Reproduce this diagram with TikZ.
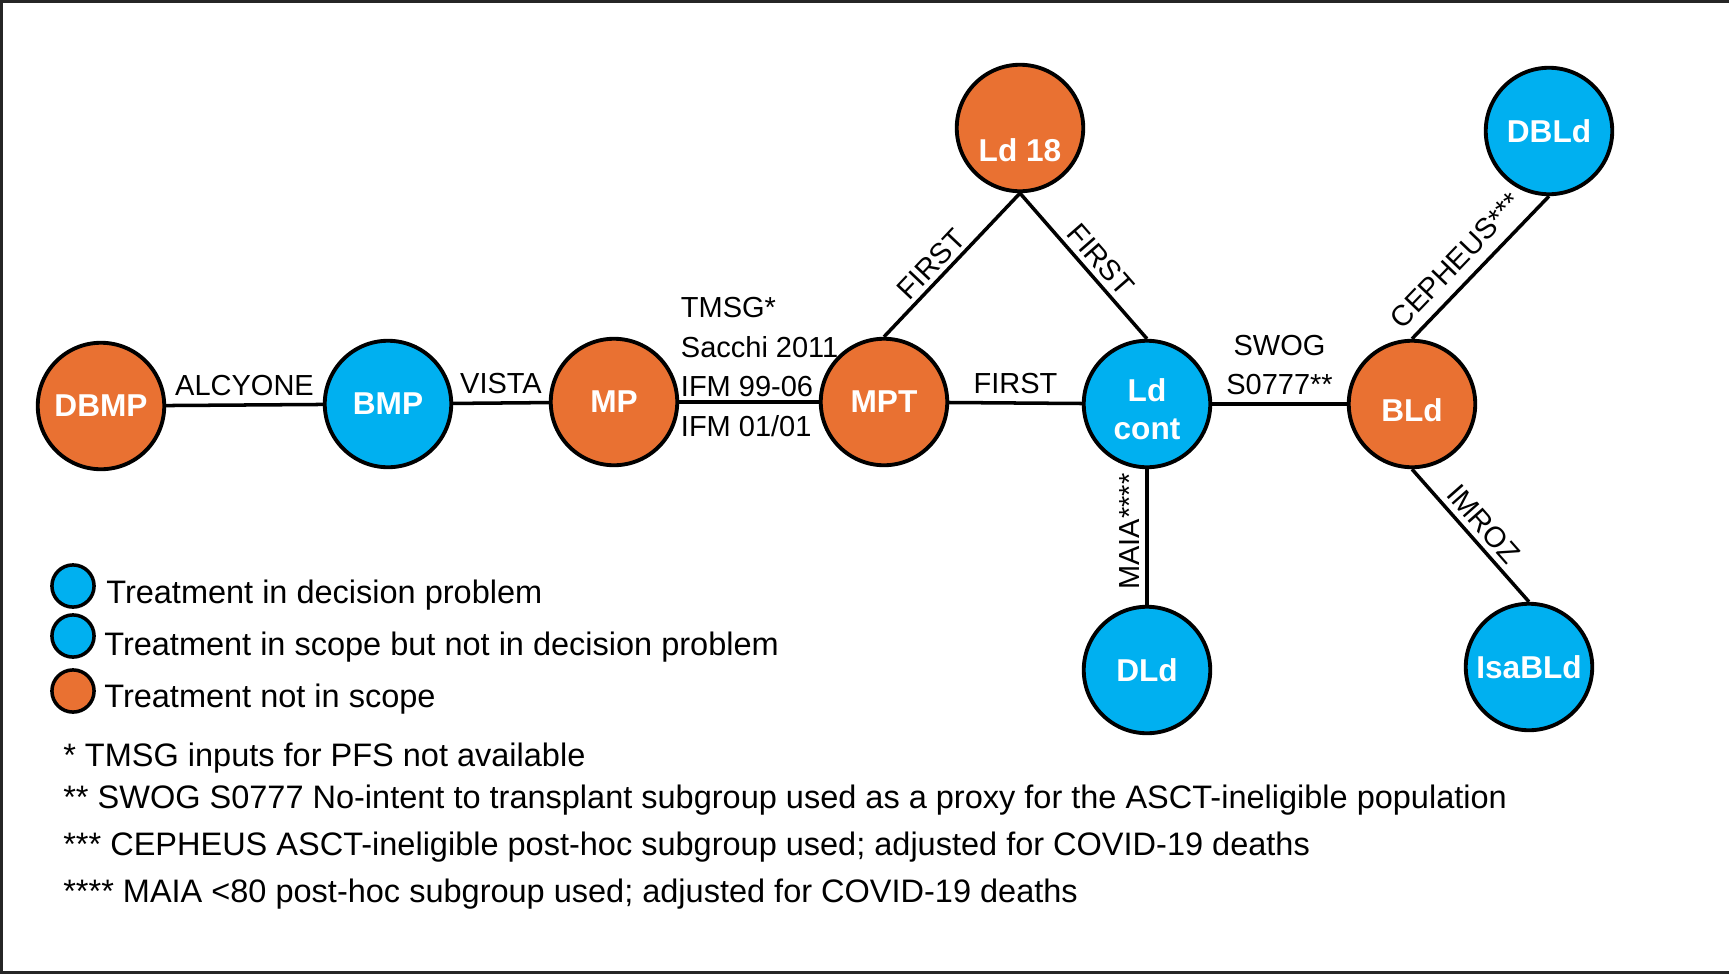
\documentclass[tikz,border=0pt]{standalone}
\usepackage{fontspec}
\setmainfont{Liberation Sans}
\definecolor{treatblue}{HTML}{00B0F0}
\definecolor{treatorange}{HTML}{E97132}
\tikzstyle{treatment}=[circle, draw, line width=2.2pt, minimum size=72pt, inner sep=0pt, text=white, font=\fontsize{18}{21.5}\selectfont\bfseries, align=center]
\tikzstyle{in scope}=[treatment, fill=treatblue]
\tikzstyle{not in scope}=[treatment, fill=treatorange]
\tikzstyle{treatment text}=[text=white, font=\fontsize{18}{21.5}\selectfont\bfseries, align=center]
\tikzstyle{trial}=[line width=2pt]
\tikzstyle{trial label}=[font=\fontsize{16.5}{22.5}\selectfont, inner sep=4pt]
\tikzstyle{key dot}=[circle, draw, line width=2pt, minimum size=24pt, inner sep=0pt]
\tikzstyle{key text}=[anchor=west, inner sep=0pt, font=\fontsize{18.5}{22}\selectfont]
\tikzstyle{frame}=[line width=1.2pt, black!85]

\begin{document}
\begin{tikzpicture}[x=0.02cm, y=-0.02cm]
  \useasboundingbox (0,0) rectangle (1729,974);
  \draw[frame] (1729,1.5) -- (1.5,1.5) -- (1.5,972.5) -- (1729,972.5);

  % treatments
  \node[not in scope] (dbmp) at (101, 406) {DBMP};
  \node[in scope] (bmp) at (388, 404) {BMP};
  \node[not in scope] (mp) at (614, 402) {MP};
  \node[not in scope] (mpt) at (884, 402) {MPT};
  \node[not in scope, label={[treatment text, yshift=-12.5pt]center:Ld 18}] (ld18) at (1020, 128) {};
  \node[in scope, label={[treatment text, yshift=-3pt]center:Ld\\cont}] (ldcont) at (1147, 404) {};
  \node[not in scope, label={[treatment text, yshift=-3.5pt]center:BLd}] (bld) at (1412, 404) {};
  \node[in scope] (dbld) at (1549, 131) {DBLd};
  \node[in scope] (dld) at (1147, 670) {DLd};
  \node[in scope] (isabld) at (1529, 667) {IsaBLd};

  % trials
  \draw[trial] (dbmp) -- node[trial label, above] {ALCYONE} (bmp);
  \draw[trial] (bmp) -- node[trial label, above] {VISTA} (mp);
  \draw[trial] (mp) -- node[trial label, pos=0, anchor=west, align=left, inner sep=0pt, yshift=20pt]
    {TMSG*\\Sacchi 2011\\IFM 99-06\\IFM 01/01} (mpt);
  \draw[trial] (mpt) -- node[trial label, above] {FIRST} (ldcont);
  \draw[trial] (mpt.north) -- node[trial label, above, sloped, pos=0.43, inner sep=2pt] {FIRST} (ld18.south);
  \draw[trial] (ld18.south) -- node[trial label, above, sloped, pos=0.535, inner sep=3pt] {FIRST} (ldcont.north);
  \draw[trial] (ldcont) -- node[trial label, above, align=center] {SWOG\\S0777**} (bld);
  \draw[trial] (dld.north) -- node[trial label, above, sloped, pos=0.54, inner sep=3pt] {MAIA****} (ldcont.south);
  \draw[trial] (bld.north) -- node[trial label, above, sloped, pos=0.44, inner sep=6pt] {CEPHEUS***} (dbld.south);
  \draw[trial] (bld.south) -- node[trial label, above, sloped, inner sep=3pt] {IMROZ} (isabld.north);

  % key
  \node[key dot, fill=treatblue] (key1) at (73, 586) {};
  \node[key dot, fill=treatblue] (key2) at (73, 636) {};
  \node[key dot, fill=treatorange] (key3) at (73, 691) {};
  \node[key text] (key1 text) at (106, 595) {Treatment in decision problem};
  \node[key text] (key2 text) at (104, 647) {Treatment in scope but not in decision problem};
  \node[key text] (key3 text) at (104, 699) {Treatment not in scope};

  % footnotes
  \node[key text] (note1) at (63, 758) {* TMSG inputs for PFS not available};
  \node[key text] (note2) at (63, 800) {** SWOG S0777 No-intent to transplant subgroup used as a proxy for the ASCT-ineligible population};
  \node[key text] (note3) at (63, 847) {*** CEPHEUS ASCT-ineligible post-hoc subgroup used; adjusted for COVID-19 deaths};
  \node[key text] (note4) at (63, 894) {**** MAIA <80 post-hoc subgroup used; adjusted for COVID-19 deaths};
\end{tikzpicture}
\end{document}
